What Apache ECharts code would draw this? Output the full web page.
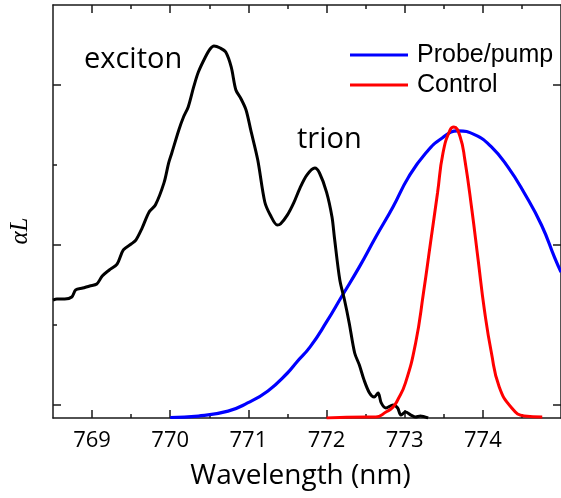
<!DOCTYPE html>
<html>
<head>
<meta charset="utf-8">
<script src="https://cdn.jsdelivr.net/npm/echarts@6/dist/echarts.min.js"></script>
<style>
html,body{margin:0;padding:0;background:#fff;}
#chart{width:561px;height:498px;}
</style>
</head>
<body>
<div id="chart"></div>
<script>
// Wavelength (nm) / alpha*L (arb. units)
const absWavelength = [768.5,768.55,768.65,768.74,768.79,768.88,768.97,769.06,769.13,769.22,769.32,769.40,769.50,769.56,769.64,769.73,769.81,769.92,769.98,770.02,770.11,770.17,770.23,770.30,770.36,770.45,770.51,770.56,770.64,770.71,770.78,770.84,770.90,770.97,771.03,771.12,771.21,771.28,771.37,771.41,771.50,771.58,771.66,771.75,771.85,771.91,772.00,772.07,772.10,772.17,772.23,772.29,772.36,772.42,772.48,772.55,772.61,772.66,772.70,772.76,772.85,772.91,772.95,773.01,773.08,773.14,773.20,773.30];
const absValue = [0.656,0.663,0.663,0.675,0.719,0.731,0.744,0.756,0.806,0.844,0.881,0.969,1.006,1.031,1.106,1.206,1.25,1.388,1.513,1.575,1.719,1.8,1.863,1.988,2.081,2.175,2.225,2.244,2.231,2.206,2.113,1.969,1.919,1.844,1.719,1.531,1.269,1.188,1.125,1.131,1.188,1.263,1.356,1.438,1.481,1.45,1.331,1.175,1.05,0.781,0.656,0.513,0.325,0.25,0.156,0.075,0.05,0.075,0.013,-0.019,0,-0.019,-0.063,-0.044,-0.063,-0.075,-0.069,-0.081];

const probeWavelength = [770.0,770.36,770.74,770.99,771.25,771.50,771.62,771.79,772.00,772.19,772.42,772.63,772.85,773.05,773.27,773.48,773.68,773.90,774.11,774.32,774.53,774.75,774.92,775.0];
const probeValue = [-0.078,-0.069,-0.038,0.013,0.088,0.2,0.269,0.363,0.519,0.675,0.863,1.05,1.238,1.425,1.575,1.669,1.713,1.688,1.613,1.488,1.325,1.125,0.919,0.83];

const controlWavelength = [772.0,772.51,772.63,772.76,772.85,772.91,773.01,773.14,773.24,773.33,773.42,773.49,773.58,773.63,773.71,773.77,773.86,773.94,774.02,774.11,774.21,774.37,774.53,774.76];
const controlValue = [-0.081,-0.075,-0.075,-0.044,-0.013,0.031,0.138,0.388,0.7,1.013,1.325,1.575,1.719,1.738,1.675,1.531,1.219,0.906,0.594,0.325,0.113,-0.019,-0.069,-0.075];

const xMajorTicks = [769,770,771,772,773,774];
const xMinorTicks = [769.5,770.5,771.5,772.5,773.5,774.5];
const yMajorTicks = [0,1,2];
const yMinorTicks = [0.5,1.5];

const X_MIN = 768.5, X_MAX = 775, Y_MIN = -0.08125, Y_MAX = 2.5;

function zip(a,b){ return a.map((v,i)=>[v,b[i]]); }

const chart = echarts.init(document.getElementById('chart'), null, {renderer:'canvas'});
const axisLine = {show:true, onZero:false, lineStyle:{color:'#1a1a1a', width:1.5}};
const noLine = {show:false, onZero:false};
const tickStyle = {color:'#1a1a1a', width:1.5};

function xAx(pos, ticks, len, opts){
  return Object.assign({
    type:'value', position:pos, min:X_MIN, max:X_MAX,
    axisLine:noLine, splitLine:{show:false},
    axisTick:{show:true, inside:true, length:len, customValues:ticks, lineStyle:tickStyle},
    axisLabel:{show:false}
  }, opts||{});
}
function yAx(pos, ticks, len, opts){
  return Object.assign({
    type:'value', position:pos, min:Y_MIN, max:Y_MAX,
    axisLine:noLine, splitLine:{show:false},
    axisTick:{show:true, inside:true, length:len, customValues:ticks, lineStyle:tickStyle},
    axisLabel:{show:false}
  }, opts||{});
}

chart.setOption({
  animation:false,
  grid:{left:53, right:-6, top:5, bottom:80, containLabel:false},
  xAxis:[
    xAx('bottom', xMajorTicks, 8, {
      axisLine:axisLine,
      axisLabel:{show:true, customValues:xMajorTicks, margin:12, fontSize:22, fontFamily:'Open Sans', color:'#000'},
      name:'Wavelength (nm)', nameLocation:'middle', nameGap:44,
      nameTextStyle:{fontSize:28, fontFamily:'Open Sans', color:'#000', padding:[0,13,0,0]}
    }),
    xAx('bottom', xMinorTicks, 4),
    xAx('top', xMajorTicks, 8, {axisLine:axisLine}),
    xAx('top', xMinorTicks, 4)
  ],
  yAxis:[
    yAx('left', yMajorTicks, 8, {axisLine:axisLine}),
    yAx('left', yMinorTicks, 4),
    yAx('right', yMajorTicks, 8, {axisLine:axisLine})
  ],
  legend:{
    orient:'vertical', left:345, top:35, itemGap:0,
    itemWidth:58, itemHeight:3, icon:'rect',
    data:['Probe/pump','Control'],
    textStyle:{fontSize:25, fontFamily:'Liberation Sans', color:'#000', lineHeight:30, padding:[0,0,0,4]}
  },
  graphic:[
    {type:'text', left:84, top:45, style:{text:'exciton', fontSize:29, fontFamily:'Open Sans', fill:'#000'}},
    {type:'text', left:297, top:125, style:{text:'trion', fontSize:29, fontFamily:'Open Sans', fill:'#000'}},
    {type:'text', x:20, y:231, rotation:Math.PI/2,
     style:{text:'αL', fontSize:25, fontStyle:'italic', fontFamily:'Liberation Serif', fill:'#000', align:'center', verticalAlign:'middle'}}
  ],
  series:[
    {name:'αL', type:'line', data:zip(absWavelength, absValue), showSymbol:false, smooth:0.3,
     lineStyle:{color:'#000', width:3}, z:3, silent:true},
    {name:'Probe/pump', type:'line', data:zip(probeWavelength, probeValue), showSymbol:false, smooth:0.5,
     itemStyle:{color:'#0000ff'}, lineStyle:{color:'#0000ff', width:3.2}, z:2, silent:true},
    {name:'Control', type:'line', data:zip(controlWavelength, controlValue), showSymbol:false, smooth:0.5,
     itemStyle:{color:'#ff0000'}, lineStyle:{color:'#ff0000', width:3}, z:4, silent:true}
  ]
});
</script>
</body>
</html>
